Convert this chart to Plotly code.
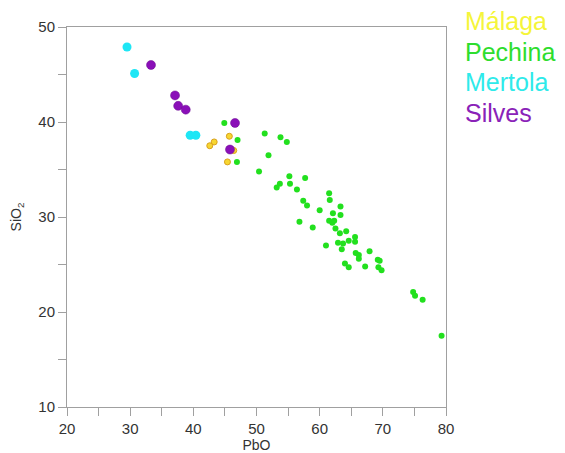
import plotly.graph_objects as go

# Pechina
pechina_pbo = [44.9, 47.0, 46.9, 50.4, 51.3, 53.8, 54.8, 51.9, 55.2, 57.7, 53.7, 53.2, 55.3, 56.4,
               61.5, 61.6, 57.4, 58.0, 63.3, 60.0, 62.1, 63.3, 56.8, 61.5, 62.0, 62.3, 58.9, 62.5,
               63.2, 64.2, 65.6, 62.9, 63.7, 64.6, 65.6, 61.0, 63.5, 67.9, 65.7, 66.2, 66.2, 69.2,
               69.5, 64.0, 64.6, 67.2, 69.3, 69.8, 74.8, 75.1, 76.3, 79.3]
pechina_sio2 = [39.9, 38.1, 35.8, 34.8, 38.8, 38.4, 37.9, 36.5, 34.3, 34.1, 33.5, 33.1, 33.5, 32.9,
                32.5, 31.8, 31.7, 31.2, 31.1, 30.7, 30.4, 30.2, 29.5, 29.6, 29.4, 29.6, 28.9, 28.8,
                28.3, 28.5, 27.9, 27.3, 27.2, 27.5, 27.4, 27.0, 26.6, 26.4, 26.2, 26.0, 25.6, 25.5,
                25.4, 25.1, 24.7, 24.8, 24.7, 24.4, 22.1, 21.7, 21.3, 17.5]
# Málaga
malaga_pbo = [45.7, 43.3, 42.6, 46.4, 45.4]
malaga_sio2 = [38.5, 37.9, 37.5, 37.0, 35.8]
# Mertola
mertola_pbo = [29.5, 30.7, 39.5, 40.4]
mertola_sio2 = [47.9, 45.1, 38.6, 38.6]
# Silves
silves_pbo = [33.3, 37.1, 37.6, 38.8, 46.6, 45.8]
silves_sio2 = [46.0, 42.8, 41.7, 41.3, 39.9, 37.1]

x_ticks = [20, 30, 40, 50, 60, 70, 80]
y_ticks = [10, 20, 30, 40, 50]

FONT = "Liberation Sans, Arial, sans-serif"

fig = go.Figure()
fig.add_trace(go.Scatter(x=pechina_pbo, y=pechina_sio2, mode="markers", name="Pechina",
                         marker=dict(size=6, color="#22E01E", line=dict(width=0))))
fig.add_trace(go.Scatter(x=malaga_pbo, y=malaga_sio2, mode="markers", name="Málaga",
                         marker=dict(size=6, color="#F7D631", line=dict(width=1, color="#D9A21E"))))
fig.add_trace(go.Scatter(x=mertola_pbo, y=mertola_sio2, mode="markers", name="Mertola",
                         marker=dict(size=9, color="#1EE6F5", line=dict(width=0))))
fig.add_trace(go.Scatter(x=silves_pbo, y=silves_sio2, mode="markers", name="Silves",
                         marker=dict(size=9, color="#8A0FB8", line=dict(width=0.5, color="#6A0A90"))))

legend_items = [("Málaga", "#F5F53A"), ("Pechina", "#2EDD2E"), ("Mertola", "#2EEAEA"), ("Silves", "#8A22B8")]
for i, (name, col) in enumerate(legend_items):
    fig.add_annotation(text=name, xref="paper", yref="paper", x=1.045, y=1.016 - i * 0.081,
                       xanchor="left", yanchor="middle", showarrow=False,
                       font=dict(size=25, color=col, family=FONT))

axis_common = dict(showline=True, linecolor="#a0a0a0", linewidth=1, mirror=True,
                   ticks="outside", ticklen=8, tickcolor="#a0a0a0", showgrid=False, zeroline=False,
                   tickfont=dict(size=15, color="#333333", family=FONT))

fig.update_xaxes(range=[20, 80], tickvals=x_ticks, ticktext=[str(v) for v in x_ticks],
                 minor=dict(dtick=5, ticks="outside", ticklen=8, tickcolor="#a0a0a0", tick0=20),
                 title=dict(text="PbO", standoff=10, font=dict(size=14, color="#333333", family=FONT)),
                 **axis_common)
fig.update_yaxes(range=[10, 50], tickvals=y_ticks, ticktext=[str(v) for v in y_ticks],
                 minor=dict(dtick=5, ticks="outside", ticklen=8, tickcolor="#a0a0a0", tick0=10),
                 title=dict(text="SiO<sub>2</sub>", standoff=14, font=dict(size=14, color="#333333", family=FONT)),
                 **axis_common)

fig.update_layout(width=557, height=445, margin=dict(l=59, r=119, t=19, b=46, autoexpand=False),
                  plot_bgcolor="white", paper_bgcolor="white", showlegend=False)

fig.write_html("out.html")
